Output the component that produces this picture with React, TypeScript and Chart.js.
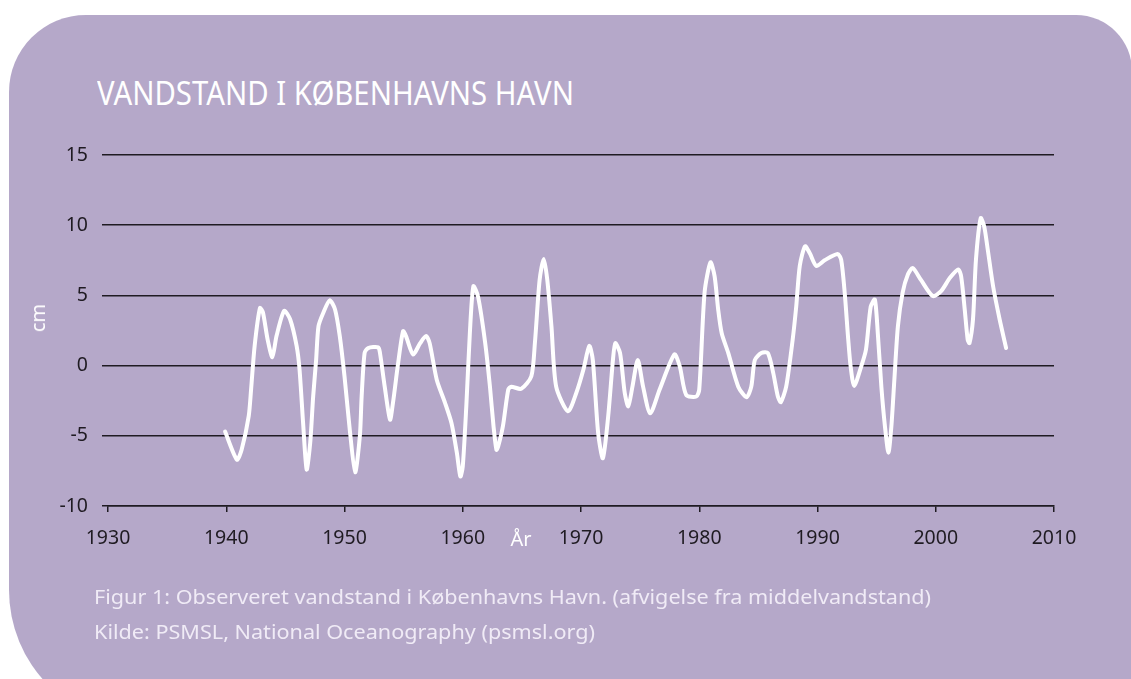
import React, { useEffect, useLayoutEffect, useRef } from "react";
import { Chart, registerables } from "chart.js";

Chart.register(...registerables);

// ---- data ----
const years = [
  1939.9, 1940.9, 1941.3, 1941.9, 1942.1, 1942.4, 1942.85, 1943.1, 1943.5, 1943.9,
  1944.25, 1944.9, 1945.4, 1945.95, 1946.2, 1946.5, 1946.8, 1947.1, 1947.35, 1947.6,
  1947.8, 1948.2, 1948.75, 1949.2, 1949.6, 1950.0, 1950.45, 1950.9, 1951.3, 1951.45,
  1951.7, 1952.0, 1952.85, 1953.0, 1953.4, 1953.85, 1954.1, 1954.5, 1954.95, 1955.2,
  1955.8, 1956.4, 1956.9, 1957.2, 1957.8, 1958.5, 1959.05, 1959.5, 1959.8, 1960.0,
  1960.3, 1960.6, 1960.9, 1961.3, 1961.9, 1962.3, 1962.6, 1962.85, 1963.0, 1963.4,
  1963.85, 1964.1, 1964.95, 1965.8, 1966.1, 1966.5, 1966.85, 1967.15, 1967.5, 1967.9,
  1968.9, 1969.6, 1970.2, 1970.7, 1971.0, 1971.45, 1971.85, 1972.3, 1972.7, 1972.9,
  1973.3, 1973.7, 1974.0, 1974.35, 1974.8, 1975.25, 1975.85, 1976.65, 1977.9, 1978.35,
  1978.9, 1979.75, 1980.0, 1980.45, 1980.95, 1981.3, 1981.6, 1981.9, 1982.45, 1983.3,
  1984.0, 1984.4, 1984.7, 1985.25, 1985.8, 1986.25, 1986.65, 1986.9, 1987.35, 1987.9,
  1988.2, 1988.5, 1988.95, 1989.35, 1989.9, 1990.6, 1991.7, 1992.0, 1992.3, 1992.6,
  1992.8, 1993.1, 1993.7, 1994.1, 1994.5, 1994.85, 1995.1, 1995.4, 1995.7, 1996.0,
  1996.25, 1996.5, 1996.8, 1997.2, 1997.65, 1998.05, 1998.75, 1999.75, 2000.45, 2001.2,
  2001.9, 2002.15, 2002.45, 2002.7, 2002.85, 2003.15, 2003.4, 2003.8, 2004.1, 2004.4,
  2004.85, 2005.4, 2005.95,
];

const levels = [
  -4.7, -6.7, -6.0, -3.6, -1.7, 1.4, 4.1, 3.8, 1.85, 0.6,
  2.1, 3.9, 3.3, 1.4, -0.3, -4.1, -7.4, -5.5, -2.2, 0.4,
  2.8, 3.75, 4.65, 4.0, 2.1, -0.76, -4.6, -7.6, -5.0, -2.2,
  0.9, 1.25, 1.3, 0.9, -1.5, -3.85, -2.65, -0.05, 2.45, 2.1,
  0.8, 1.6, 2.1, 1.6, -1.0, -2.65, -4.1, -6.2, -7.9, -7.2,
  -2.9, 2.3, 5.65, 4.9, 1.6, -1.5, -4.3, -6.0, -5.75, -4.3,
  -1.7, -1.5, -1.65, -0.76, 1.6, 6.1, 7.6, 6.1, 2.8, -1.5,
  -3.25, -1.95, -0.3, 1.4, 0.4, -4.8, -6.6, -3.6, 0.4, 1.6,
  0.9, -1.95, -2.9, -1.5, 0.4, -1.5, -3.4, -1.7, 0.8, -0.05,
  -2.1, -2.2, -1.7, 5.2, 7.35, 6.35, 4.0, 2.3, 0.9, -1.5,
  -2.25, -1.5, 0.4, 0.9, 0.9, -0.5, -2.2, -2.6, -1.5, 1.85,
  4.2, 7.1, 8.5, 8.0, 7.1, 7.5, 7.95, 7.55, 5.2, 1.85,
  -0.05, -1.45, -0.05, 1.15, 4.2, 4.7, 2.3, -1.5, -4.3, -6.2,
  -4.3, -1.0, 2.8, 5.2, 6.5, 6.95, 6.1, 4.95, 5.3, 6.25,
  6.85, 6.35, 4.0, 1.85, 1.6, 3.3, 7.55, 10.5, 9.9, 8.25,
  5.65, 3.3, 1.25,
];

const xTickValues = [1930, 1940, 1950, 1960, 1970, 1980, 1990, 2000, 2010];
const yTickValues = [-10, -5, 0, 5, 10, 15];

const titleText = "VANDSTAND I KØBENHAVNS HAVN";
const captionLine1 = "Figur 1: Observeret vandstand i Københavns Havn. (afvigelse fra middelvandstand)";
const captionLine2 = "Kilde: PSMSL, National Oceanography (psmsl.org)";
const yAxisTitle = "cm";
const xAxisTitle = "År";

const FONT = "'Noto Sans', 'Open Sans', 'DejaVu Sans', sans-serif";
const PANEL = "#b5a8c9";
const INK = "#1f1b22";

function FitText(props: {
  text: string;
  left: number;
  top: number;
  size: number;
  width: number;
  color: string;
}) {
  const ref = useRef<HTMLSpanElement>(null);
  useLayoutEffect(() => {
    const el = ref.current;
    if (!el) return;
    el.style.transform = "none";
    const w = el.getBoundingClientRect().width;
    if (w > 0) el.style.transform = `scaleX(${props.width / w})`;
  }, [props.text, props.width]);
  return (
    <span
      ref={ref}
      style={{
        position: "absolute",
        left: props.left,
        top: props.top,
        fontFamily: FONT,
        fontSize: props.size,
        lineHeight: 1,
        color: props.color,
        whiteSpace: "nowrap",
        display: "inline-block",
        transformOrigin: "left top",
      }}
    >
      {props.text}
    </span>
  );
}

export default function App() {
  const canvasRef = useRef<HTMLCanvasElement>(null);

  useEffect(() => {
    const canvas = canvasRef.current;
    if (!canvas) return;
    const tickFont = { family: FONT, size: 19.5 };
    const chart = new Chart(canvas, {
      type: "line",
      data: {
        datasets: [
          {
            data: years.map((x, i) => ({ x, y: levels[i] })),
            borderColor: "#ffffff",
            borderWidth: 4,
            pointRadius: 0,
            tension: 0.25,
            fill: false,
            borderCapStyle: "round",
            borderJoinStyle: "round",
          },
        ],
      },
      options: {
        animation: false,
        responsive: false,
        maintainAspectRatio: false,
        layout: { padding: { left: 28, right: 77, top: 155, bottom: 113 } },
        plugins: {
          legend: { display: false },
          tooltip: { enabled: false },
        },
        scales: {
          x: {
            type: "linear",
            min: 1930,
            max: 2010,
            afterBuildTicks: (s: any) => {
              s.ticks = xTickValues.map((v) => ({ value: v }));
            },
            afterFit: (s: any) => {
              s.height = 60;
            },
            grid: {
              drawOnChartArea: false,
              drawTicks: true,
              tickLength: 6,
              color: INK,
              lineWidth: 1.5,
            },
            border: { display: true, color: INK, width: 1.5 },
            ticks: {
              padding: 15,
              color: INK,
              font: tickFont,
              maxRotation: 0,
              autoSkip: false,
              callback: (v: any) => String(v),
            },
          },
          y: {
            type: "linear",
            min: -10,
            max: 15,
            afterBuildTicks: (s: any) => {
              s.ticks = yTickValues.map((v) => ({ value: v }));
            },
            afterFit: (s: any) => {
              s.width = 80;
            },
            grid: {
              drawTicks: true,
              tickLength: 6,
              color: INK,
              lineWidth: 1.5,
            },
            border: { display: false },
            ticks: {
              padding: 14,
              color: INK,
              font: tickFont,
              autoSkip: false,
              callback: (v: any) => String(v),
            },
          },
        },
      },
    } as any);
    return () => chart.destroy();
  }, []);

  return (
    <div
      style={{
        position: "fixed",
        left: 0,
        top: 0,
        width: 1131,
        height: 679,
        overflow: "hidden",
        background: "#ffffff",
      }}
    >
      <div
        style={{
          position: "absolute",
          left: 9,
          top: 15,
          width: 1123,
          height: 710,
          background: PANEL,
          borderRadius: "77px 56px 56px 135px",
        }}
      />
      <FitText text={titleText} left={97} top={77} size={32} width={477} color="#ffffff" />
      <canvas
        ref={canvasRef}
        width={1131}
        height={679}
        style={{ position: "absolute", left: 0, top: 0, width: 1131, height: 679 }}
      />
      <div
        style={{
          position: "absolute",
          left: 38,
          top: 318,
          transform: "translate(-50%, -50%) rotate(-90deg)",
          fontFamily: FONT,
          fontSize: 20,
          lineHeight: 1,
          color: "#ffffff",
          whiteSpace: "nowrap",
        }}
      >
        {yAxisTitle}
      </div>
      <div
        style={{
          position: "absolute",
          left: 521,
          top: 539,
          transform: "translate(-50%, -50%)",
          fontFamily: FONT,
          fontSize: 20,
          lineHeight: 1,
          color: "#ffffff",
          whiteSpace: "nowrap",
        }}
      >
        {xAxisTitle}
      </div>
      <FitText text={captionLine1} left={94} top={588} size={19} width={837} color="#f0ebf6" />
      <FitText text={captionLine2} left={94} top={623} size={19} width={501} color="#f0ebf6" />
    </div>
  );
}
